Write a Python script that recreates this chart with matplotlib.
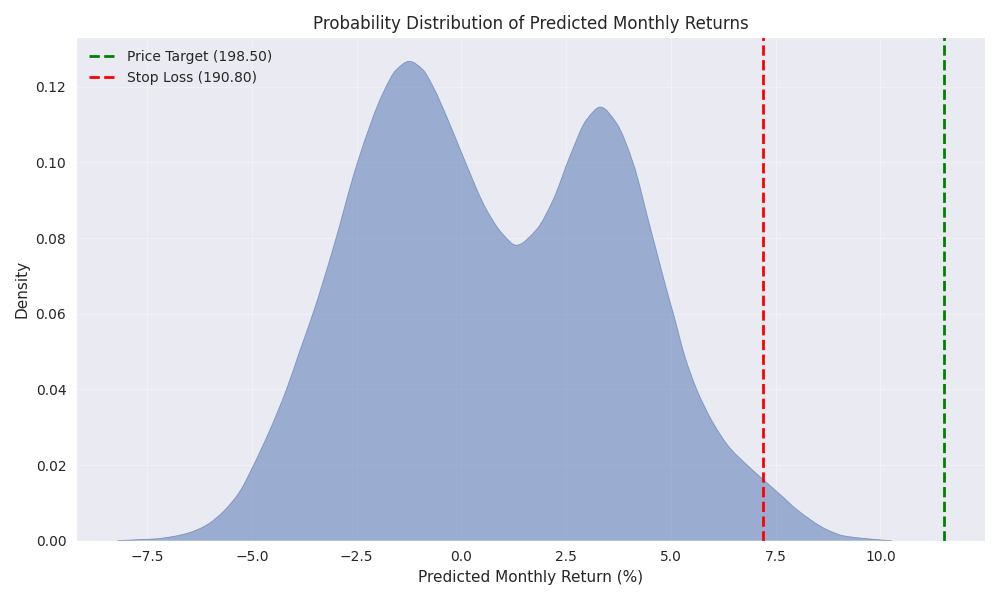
import numpy as np
import matplotlib
matplotlib.use("Agg")
import matplotlib.pyplot as plt
from matplotlib.path import Path
from matplotlib.patches import PathPatch
import seaborn as sns

sns.set_style("darkgrid")

# Densidad estimada
retornos = [-8.21, -7.69, -7.29, -6.89, -6.50, -6.10, -5.70, -5.30, -4.98, -4.58,
            -4.18, -3.87, -3.51, -3.07, -2.47, -1.87, -1.55, -1.24, -0.92, -0.68,
            -0.32, 0.04, 0.60, 0.99, 1.31, 1.79, 2.19, 2.59, 2.99, 3.32,
            3.70, 4.10, 4.50, 4.70, 4.90, 5.06, 5.34, 5.62, 6.01, 6.41,
            6.81, 7.21, 7.61, 8.01, 8.73, 9.12, 9.52, 10.27]
densidad = [0.0, 0.0003, 0.0005, 0.0011, 0.0021, 0.0040, 0.0075, 0.0128, 0.0195, 0.0290,
            0.0398, 0.0497, 0.0611, 0.0769, 0.1003, 0.1183, 0.1245, 0.1267, 0.1245, 0.1201,
            0.1113, 0.1016, 0.0875, 0.0810, 0.0781, 0.0822, 0.0901, 0.1016, 0.1113, 0.1146,
            0.1104, 0.0998, 0.0831, 0.0747, 0.0663, 0.0600, 0.0485, 0.0399, 0.0311, 0.0245,
            0.0201, 0.0161, 0.0122, 0.0082, 0.0029, 0.0013, 0.0007, 0.0]

precio_objetivo = 198.50
stop_loss = 190.80
ret_objetivo = 11.51
ret_stop = 7.20


def curva_suave(xs, ys):
    """Curva Bezier (Hermite monótona) que pasa por los puntos leídos."""
    xs = np.asarray(xs, float)
    ys = np.asarray(ys, float)
    h = np.diff(xs)
    d = np.diff(ys) / h
    m = np.zeros_like(ys)
    for i in range(1, len(ys) - 1):
        if d[i - 1] * d[i] > 0:
            w1 = 2 * h[i] + h[i - 1]
            w2 = h[i] + 2 * h[i - 1]
            m[i] = (w1 + w2) / (w1 / d[i - 1] + w2 / d[i])
    m[0] = d[0]
    m[-1] = d[-1]
    verts = [(xs[0], ys[0])]
    codes = [Path.MOVETO]
    for i in range(len(xs) - 1):
        verts += [(xs[i] + h[i] / 3, ys[i] + m[i] * h[i] / 3),
                  (xs[i + 1] - h[i] / 3, ys[i + 1] - m[i + 1] * h[i] / 3),
                  (xs[i + 1], ys[i + 1])]
        codes += [Path.CURVE4] * 3
    return verts, codes


verts, codes = curva_suave(retornos, densidad)

fig, ax = plt.subplots(figsize=(10, 6), dpi=100)
relleno = Path(verts + [(retornos[-1], 0), (retornos[0], 0), verts[0]],
               codes + [Path.LINETO, Path.LINETO, Path.CLOSEPOLY])
ax.add_patch(PathPatch(relleno, facecolor="#4c72b0", alpha=0.5, linewidth=0))
ax.add_patch(PathPatch(Path(verts, codes), facecolor="none", edgecolor="#4c72b0",
                       alpha=0.6, linewidth=0.6))
ax.autoscale_view()
ax.axvline(ret_objetivo, color="green", linestyle="--", linewidth=2,
           label=f"Price Target ({precio_objetivo:.2f})")
ax.axvline(ret_stop, color="red", linestyle="--", linewidth=2,
           label=f"Stop Loss ({stop_loss:.2f})")
ax.set_ylim(0, max(densidad) * 1.05)
ax.set_title("Probability Distribution of Predicted Monthly Returns", fontsize=12)
ax.set_xlabel("Predicted Monthly Return (%)", fontsize=11)
ax.set_ylabel("Density", fontsize=11)
ax.grid(True, alpha=0.3)
ax.legend(loc="upper left", frameon=False)
plt.tight_layout()
plt.savefig("out.png")
